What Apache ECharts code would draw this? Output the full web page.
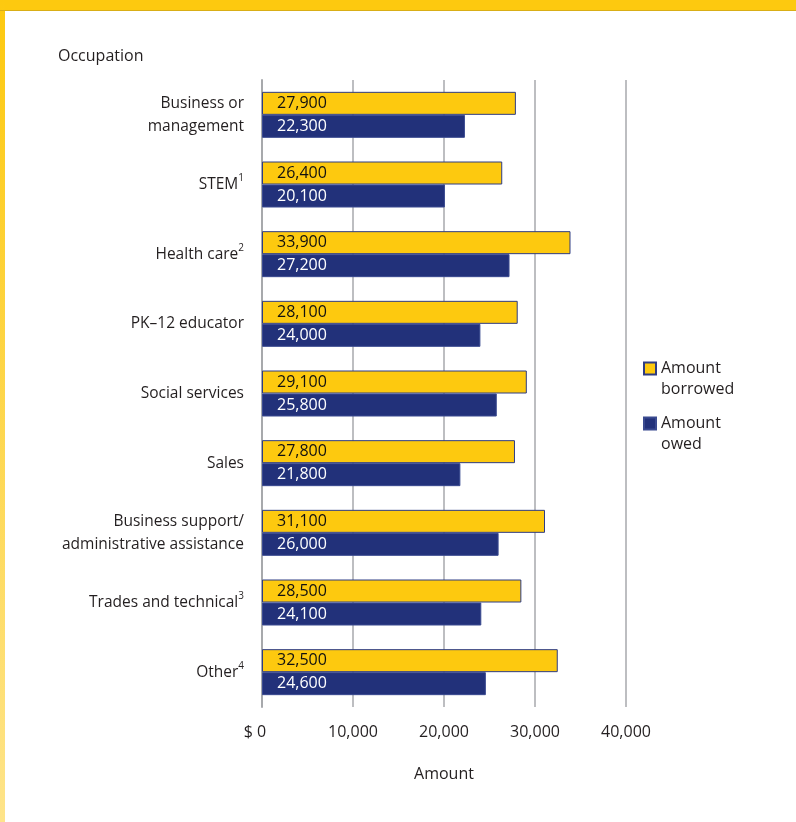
<!DOCTYPE html>
<html>
<head>
<meta charset="utf-8">
<script src="https://cdn.jsdelivr.net/npm/echarts@6/dist/echarts.min.js"></script>
<style>
  html, body { margin: 0; padding: 0; background: #fff; }
  #chart { width: 796px; height: 822px; }
</style>
</head>
<body>
<div id="chart"></div>
<script>
var occupations = ['Business or\nmanagement', 'STEM', 'Health care', 'PK\u201312 educator', 'Social services',
  'Sales', 'Business support/\nadministrative assistance', 'Trades and technical', 'Other'];
var notes = ['', '1', '2', '', '', '', '', '3', '4'];
var borrowed = [27900, 26400, 33900, 28100, 29100, 27800, 31100, 28500, 32500];
var owed = [22300, 20100, 27200, 24000, 25800, 21800, 26000, 24100, 24600];
var ticks = [0, 10000, 20000, 30000, 40000];

var yellow = '#FDC90F';
var navy = '#22317A';
var font = 'Open Sans';

function fmt(v) {
  return v.toLocaleString('en-US');
}

var chart = echarts.init(document.getElementById('chart'));

chart.setOption({
  animation: false,
  textStyle: { fontFamily: font },
  graphic: [
    // yellow frame
    { type: 'rect', shape: { x: 0, y: 0, width: 796, height: 11 }, style: { fill: yellow }, z: 10 },
    { type: 'rect', shape: { x: 0, y: 10, width: 796, height: 1 }, style: { fill: '#D9AE16' }, z: 11 },
    {
      type: 'rect', shape: { x: 0, y: 0, width: 5, height: 822 }, z: 10,
      style: {
        fill: new echarts.graphic.LinearGradient(0, 0, 0, 1, [
          { offset: 0, color: yellow },
          { offset: 1, color: '#FEE48A' }
        ])
      }
    }
  ],
  title: {
    text: 'Occupation',
    left: 53,
    top: 43,
    textStyle: { fontFamily: font, fontSize: 16, fontWeight: 'normal', color: '#231F20' }
  },
  legend: {
    orient: 'vertical',
    left: 643,
    top: 337,
    padding: 0,
    itemWidth: 12,
    itemHeight: 12,
    itemGap: -8,
    icon: 'rect',
    data: ['Amount\nborrowed', 'Amount\nowed'],
    formatter: function (name) { return '\n' + name; },
    textStyle: { fontFamily: font, fontSize: 16, color: '#231F20', lineHeight: 21 }
  },
  grid: { left: 262, right: 170, top: 80, bottom: 115, containLabel: false },
  xAxis: {
    type: 'value',
    min: 0,
    max: 40000,
    interval: 10000,
    name: 'Amount',
    nameLocation: 'middle',
    nameGap: 59,
    nameTextStyle: { fontFamily: font, fontSize: 16, color: '#231F20' },
    axisLine: { show: false },
    axisTick: { show: false },
    splitLine: { show: true, lineStyle: { color: '#A7A9AC', width: 1.5 } },
    axisLabel: {
      margin: 17,
      fontFamily: font,
      fontSize: 16,
      color: '#231F20',
      formatter: function (v) {
        if (v === ticks[0]) return '{z|$ 0}';
        return fmt(v);
      },
      rich: { z: { fontFamily: font, fontSize: 16, color: '#231F20', padding: [0, 14, 0, 0] } }
    }
  },
  yAxis: {
    type: 'category',
    inverse: true,
    data: occupations,
    axisLine: { show: true, lineStyle: { color: '#A7A9AC', width: 2 } },
    axisTick: { show: false },
    axisLabel: {
      margin: 18,
      fontFamily: font,
      fontSize: 15.5,
      lineHeight: 23,
      color: '#231F20',
      formatter: function (v, i) {
        return notes[i] ? v + '{s|' + notes[i] + '}' : v;
      },
      rich: {
        s: { fontFamily: font, fontSize: 10, color: '#231F20', verticalAlign: 'top', padding: [0, 0, 9, 0] }
      }
    }
  },
  series: [
    {
      name: 'Amount\nborrowed',
      type: 'bar',
      data: borrowed,
      barWidth: 23,
      barGap: '0%',
      itemStyle: { color: yellow, borderColor: '#2E3C84', borderWidth: 1 },
      label: {
        show: true,
        position: 'insideLeft',
        offset: [10, 0],
        fontFamily: font,
        fontSize: 16,
        color: '#111',
        formatter: function (p) { return fmt(p.value); }
      }
    },
    {
      name: 'Amount\nowed',
      type: 'bar',
      data: owed,
      barWidth: 23,
      itemStyle: { color: navy, borderColor: '#3A4A90', borderWidth: 1 },
      label: {
        show: true,
        position: 'insideLeft',
        offset: [10, 0],
        fontFamily: font,
        fontSize: 16,
        color: '#fff',
        formatter: function (p) { return fmt(p.value); }
      }
    }
  ]
});
</script>
</body>
</html>
